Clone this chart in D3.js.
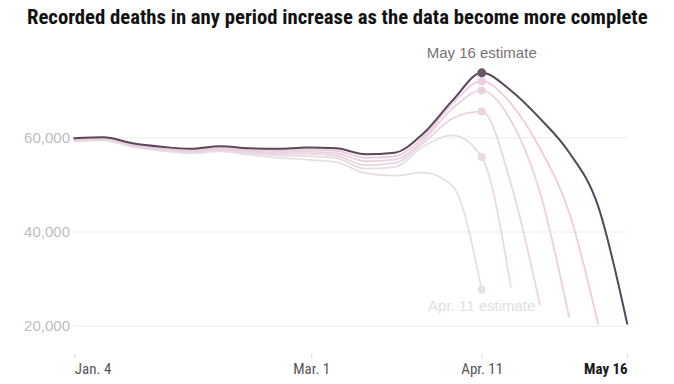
<!DOCTYPE html>
<html>
<head>
<meta charset="utf-8">
<script src="https://cdn.jsdelivr.net/npm/d3@7"></script>
<style>
  body { margin: 0; background: #fff; }
  svg { display: block; }
</style>
</head>
<body>
<div id="chart"></div>
<script>
// weekly death counts, one array per estimate date
const weekEnding = [
  '2020-01-04', '2020-01-11', '2020-01-18', '2020-01-25', '2020-02-01',
  '2020-02-08', '2020-02-15', '2020-02-22', '2020-02-29', '2020-03-07',
  '2020-03-14', '2020-03-21', '2020-03-28', '2020-04-04', '2020-04-11',
  '2020-04-18', '2020-04-25', '2020-05-02', '2020-05-09', '2020-05-16'
]

const apr11Estimate = [59150, 59370, 57990, 57140, 56610, 57040, 56300, 55660, 55280, 54710,
  52380, 51850, 52480, 49630, 27620]
const apr18Estimate = [59260, 59470, 58100, 57350, 56830, 57250, 56610, 56190, 56020, 55560,
  53330, 53650, 58100, 60420, 55830, 28250]
const apr25Estimate = [59370, 59580, 58200, 57460, 56930, 57350, 56830, 56510, 56550, 56080,
  54070, 54500, 58840, 64020, 65500, 50260, 24440]
const may2Estimate = [59470, 59680, 58310, 57570, 57040, 57570, 57040, 56830, 56970, 56610,
  54920, 55240, 59470, 66140, 69950, 63600, 48360, 21910]
const may9Estimate = [59580, 59790, 58410, 57670, 57250, 57670, 57250, 57140, 57400, 57140,
  55660, 55980, 60110, 67200, 71920, 67200, 57670, 44130, 20420]
const may16Estimate = [59790, 60000, 58730, 57990, 57570, 58100, 57670, 57570, 57820, 57670,
  56400, 56720, 60850, 67830, 73690, 69950, 64020, 56830, 45400, 20420]

const seriesNames = ['Apr. 11', 'Apr. 18', 'Apr. 25', 'May 2', 'May 9', 'May 16']
const seriesValues = [apr11Estimate, apr18Estimate, apr25Estimate, may2Estimate, may9Estimate, may16Estimate]
const seriesColors = ['#e6e0e4', '#e8dbe2', '#e9d6e1', '#ebd1e0', '#edcce0', '#58465a']

const yTicks = [20000, 40000, 60000]
const xTickDates = ['2020-01-04', '2020-03-01', '2020-04-11', '2020-05-16']
const xTickLabels = ['Jan. 4', 'Mar. 1', 'Apr. 11', 'May 16']

const markerDate = '2020-04-11'

const width = 674
const height = 384
const narrow = '"Liberation Sans Narrow", "Roboto Condensed", "DejaVu Sans Condensed", sans-serif'
const sans = '"Liberation Sans", Arial, sans-serif'

const parse = d3.utcParse('%Y-%m-%d')

const x = d3.scaleUtc()
  .domain([parse(weekEnding[0]), parse(weekEnding[weekEnding.length - 1])])
  .range([74.3, 627.2])

const y = d3.scaleLinear()
  .domain([20000, 60000])
  .range([325.7, 137.3])

const svg = d3.select('#chart')
  .append('svg')
  .attr('width', width)
  .attr('height', height)

// title, fitted to the reference width
const title = svg.append('text')
  .attr('x', 27)
  .attr('y', 24)
  .style('font-family', narrow)
  .style('font-weight', 'bold')
  .style('font-size', '18px')
  .attr('fill', '#121212')
  .text('Recorded deaths in any period increase as the data become more complete')
const tw = title.node().getComputedTextLength()
title.style('font-size', (18 * 621 / tw) + 'px')

// y axis with grid
const yAxis = svg.append('g')
  .attr('transform', 'translate(73,0)')
  .call(d3.axisLeft(y)
    .tickValues(yTicks)
    .tickSize(-(627 - 73))
    .tickPadding(3)
    .tickFormat(d3.format(',')))
yAxis.select('.domain').remove()
yAxis.selectAll('line').attr('stroke', '#ededed')
yAxis.selectAll('text')
  .attr('fill', '#bdbdbd')
  .style('font-family', sans)
  .style('font-size', '15px')

// x axis
const xAxis = svg.append('g')
  .attr('transform', 'translate(0,354)')
  .call(d3.axisBottom(x)
    .tickValues(xTickDates.map(parse))
    .tickSize(5)
    .tickPadding(4)
    .tickFormat((d, i) => xTickLabels[i]))
xAxis.select('.domain').remove()
xAxis.selectAll('line').attr('stroke', '#dcdcdc')
xAxis.selectAll('text')
  .style('font-family', narrow)
  .style('font-size', '15px')
  .attr('text-anchor', (d, i) => i === 0 ? 'start' : i === xTickLabels.length - 1 ? 'end' : 'middle')
  .style('font-weight', (d, i) => i === xTickLabels.length - 1 ? 'bold' : 'normal')
  .attr('fill', (d, i) => i === xTickLabels.length - 1 ? '#1a1a1a' : '#555')

const series = seriesNames.map((name, i) => ({
  name,
  color: seriesColors[i],
  values: seriesValues[i].map((v, j) => ({ date: parse(weekEnding[j]), value: v }))
}))

const line = d3.line()
  .x(d => x(d.date))
  .y(d => y(d.value))
  .curve(d3.curveMonotoneX)

svg.append('g')
  .selectAll('path')
  .data(series)
  .join('path')
  .attr('d', d => line(d.values))
  .attr('fill', 'none')
  .attr('stroke', d => d.color)
  .attr('stroke-width', (d, i) => i === series.length - 1 ? 2 : 1.8)
  .attr('stroke-linejoin', 'round')
  .attr('stroke-linecap', 'round')

// dots at the Apr. 11 value of every estimate
const marker = parse(markerDate)
svg.append('g')
  .selectAll('circle')
  .data(series)
  .join('circle')
  .attr('cx', x(marker))
  .attr('cy', d => y(d.values.find(p => +p.date === +marker).value))
  .attr('r', (d, i) => i === series.length - 1 ? 4.5 : 4)
  .attr('fill', (d, i) => i === series.length - 1 ? '#6b5568' : d.color)

const first = series[0]
const last = series[series.length - 1]
const firstEnd = first.values[first.values.length - 1]
const lastPeak = last.values.find(p => +p.date === +marker)

svg.append('text')
  .attr('x', x(marker))
  .attr('y', y(lastPeak.value) - 15)
  .attr('text-anchor', 'middle')
  .style('font-family', sans)
  .style('font-size', '15px')
  .attr('fill', '#7a7078')
  .text(last.name + ' estimate')

svg.append('text')
  .attr('x', x(marker))
  .attr('y', y(firstEnd.value) + 21)
  .attr('text-anchor', 'middle')
  .style('font-family', sans)
  .style('font-size', '15px')
  .attr('fill', '#e4dde1')
  .text(first.name + ' estimate')
</script>
</body>
</html>
